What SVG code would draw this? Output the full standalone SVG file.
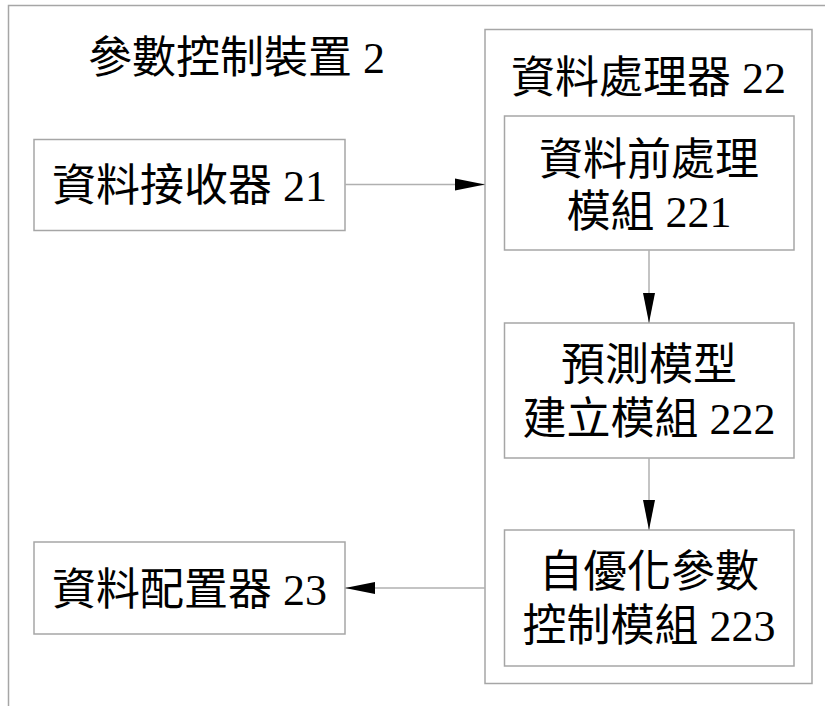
<svg xmlns="http://www.w3.org/2000/svg" width="825" height="706" viewBox="0 0 825 706">
<style>
.box{fill:none;stroke:#a6a6a6;stroke-width:1.5}
.t{font-family:"Liberation Serif","Noto Sans CJK TC",serif;font-size:44px;fill:#000}
.m{text-anchor:middle}
.c{stroke:#b0b0b0;stroke-width:1.5;fill:none;marker-end:url(#ah)}
</style>
<defs>
<marker id="ah" markerUnits="userSpaceOnUse" markerWidth="32" markerHeight="14" viewBox="0 -7 32 14" refX="30" refY="0" orient="auto">
<path d="M0,-6 L30,0 L0,6 Z" fill="#000"/>
</marker>
</defs>
<rect width="825" height="706" fill="#fff"/>
<g id="device">
<path d="M8.5,706 V5.5 H825" class="box"/>
<text class="t" x="88" y="73">參數控制裝置 2</text>
</g>
<g id="n22">
<rect class="box" x="485" y="29.5" width="327" height="654"/>
<text class="t m" x="648.5" y="93">資料處理器 22</text>
</g>
<g id="n21">
<rect class="box" x="34" y="139.5" width="311" height="91"/>
<text class="t m" x="189.5" y="201">資料接收器 21</text>
</g>
<g id="n221">
<rect class="box" x="504.5" y="116" width="289.5" height="134"/>
<text class="t m" x="649" y="175">資料前處理</text>
<text class="t m" x="649" y="227">模組 221</text>
</g>
<g id="n222">
<rect class="box" x="504.5" y="323" width="289.5" height="135"/>
<text class="t m" x="649" y="380">預測模型</text>
<text class="t m" x="649" y="434">建立模組 222</text>
</g>
<g id="n223">
<rect class="box" x="504.5" y="530" width="289.5" height="136"/>
<text class="t m" x="649" y="587">自優化參數</text>
<text class="t m" x="649" y="641">控制模組 223</text>
</g>
<g id="n23">
<rect class="box" x="34" y="542" width="311" height="92"/>
<text class="t m" x="189.5" y="605">資料配置器 23</text>
</g>
<g id="connectors">
<line class="c" x1="345" y1="184.5" x2="485" y2="184.5"/>
<line class="c" x1="649" y1="250" x2="649" y2="323"/>
<line class="c" x1="649" y1="458" x2="649" y2="530"/>
<line class="c" x1="485" y1="588" x2="345" y2="588"/>
</g>
</svg>
